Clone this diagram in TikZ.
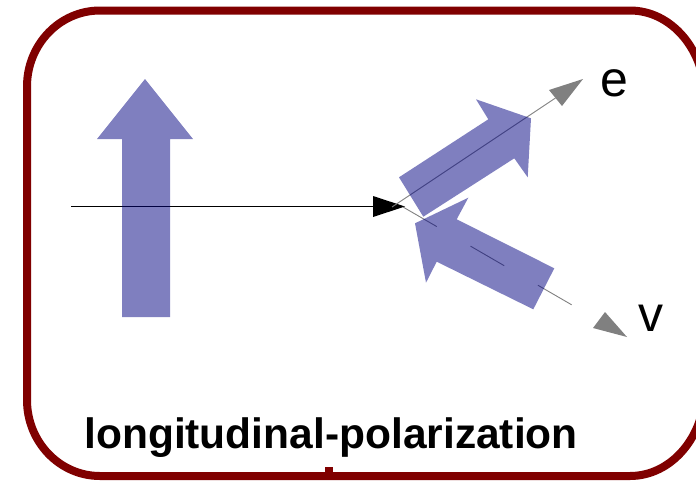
\documentclass[tikz,border=0pt]{standalone}
\usepackage{fontspec}
\setmainfont{Liberation Sans}
\begin{document}
\begin{tikzpicture}[x=1pt,y=-1pt,
  frame/.style={draw={rgb,255:red,128;green,0;blue,0},line width=8pt},
  spinarrow/.style={fill={rgb,255:red,0;green,0;blue,128},fill opacity=0.5,draw=none},
  track/.style={draw={rgb,255:red,128;green,128;blue,128},line width=0.9pt},
  tiphead/.style={fill={rgb,255:red,128;green,128;blue,128},draw=none},
  lbl/.style={inner sep=0pt,text=black}]
\useasboundingbox (0,0) rectangle (696,480);
\clip (0,0) rectangle (696,480);

% outer frame (rounded corners) and its stub at the bottom
\draw[frame] (100,10.5) -- (630,10.5)
  arc[start angle=-90,end angle=0,x radius=75,y radius=88] -- (705,388)
  arc[start angle=0,end angle=90,x radius=75,y radius=88] -- (100,476)
  arc[start angle=90,end angle=180,x radius=73,y radius=76] -- (27,86.5)
  arc[start angle=180,end angle=270,x radius=73,y radius=76] -- cycle;
\draw[frame,line cap=butt] (329,467) -- (329,476);

% incoming beam
\coordinate (beamL) at (71,206.5);
\coordinate (beamR) at (374,206.5);
\coordinate (vertex) at (405,206.5);
\draw[line width=1pt] (beamL) -- (beamR);
\fill (373,196) -- (vertex) -- (373,217) -- cycle;

% electron track
\coordinate (eStart) at (392,207);
\coordinate (eBase) at (555.5,98);
\coordinate (eTip) at (583,79);
\draw[track] (eStart) -- (eBase);
\fill[tiphead] (eTip) -- (549,90) -- (562,106) -- cycle;

% neutrino track
\coordinate (vStart) at (403,207);
\coordinate (vEnd) at (572,305);
\draw[track,dash pattern=on 39pt off 39pt] (vStart) -- (vEnd);
\fill[tiphead] (627,337) -- (593,328) -- (605,312) -- cycle;

% spin arrows
\fill[spinarrow] (122,317) -- (122,139) -- (97,139) -- (145,79)
  -- (193,139) -- (170,139) -- (170,317) -- cycle;
\fill[spinarrow] (399,177.3) -- (488.3,119.3) -- (476,99.3) -- (531,118.3)
  -- (527.7,177.3) -- (514.3,158.3) -- (423.3,216.7) -- cycle;
\fill[spinarrow] (554.3,268.3) -- (456.7,219.3) -- (468.3,197.7) -- (415,223.3)
  -- (426,282.7) -- (436.7,261.7) -- (533.3,309.3) -- cycle;

% labels
\node[lbl,anchor=base west,font=\fontsize{50}{60}\selectfont] (eLabel) at (600,96) {e};
\node[lbl,anchor=base west,font=\fontsize{50}{60}\selectfont] (vLabel) at (638,331) {v};
\node[lbl,anchor=base,font=\bfseries\fontsize{42.5}{50}\selectfont] (title) at (331,448) {longitudinal-polarization};
\end{tikzpicture}
\end{document}
